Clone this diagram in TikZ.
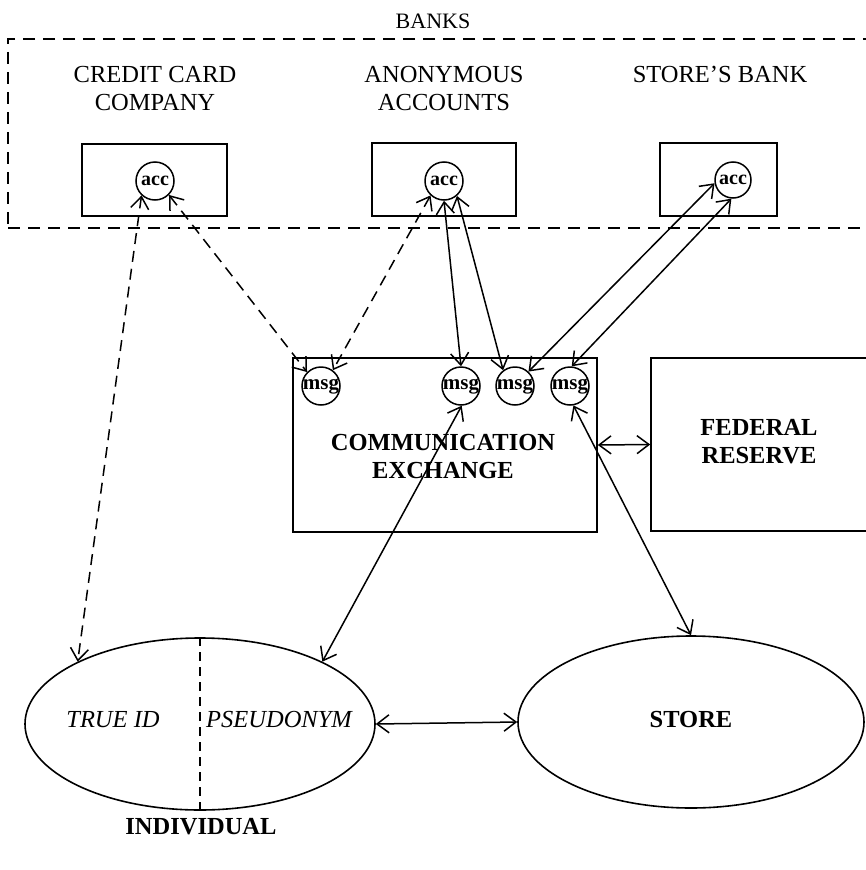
\documentclass[tikz,border=0pt]{standalone}
\usepackage{fontspec}
\setmainfont{Liberation Serif}
\usetikzlibrary{arrows.meta,shapes.geometric}
\tikzset{
  every node/.style={inner sep=0pt},
  lbl/.style={font=\fontsize{24.5}{28}\selectfont, align=center},
  blbl/.style={font=\fontsize{24.5}{28}\selectfont\bfseries, align=center},
  ilbl/.style={font=\fontsize{24.5}{28}\selectfont\itshape},
  box/.style={draw, line width=1.6pt, rectangle},
  dbox/.style={draw, line width=1.6pt, rectangle, dash pattern=on 12pt off 8pt},
  acccirc/.style={draw, circle, line width=1.5pt, minimum size=38pt, fill=white},
  msgcirc/.style={draw, circle, line width=1.5pt, minimum size=38pt, fill=white},
  circtxt/.style={font=\fontsize{20}{20}\selectfont\bfseries},
  ell/.style={draw, ellipse, line width=1.6pt},
  link/.style={line width=1.5pt, {Straight Barb[length=12pt,width=18pt]}-{Straight Barb[length=12pt,width=18pt]}},
  dlink/.style={link, dash pattern=on 11pt off 7pt},
}
\begin{document}
\begin{tikzpicture}[x=1pt,y=-1pt]
\useasboundingbox (0,0) rectangle (866,870);

% banks region
\node[dbox, minimum width=859pt, minimum height=189pt] (banks) at (437.5,133.5) {};
\node[lbl, font=\fontsize{22}{26}\selectfont, anchor=base] (bankslbl) at (433,28) {BANKS};

\node[lbl, anchor=base] (cclbl) at (155,110) {CREDIT CARD\\COMPANY};
\node[lbl, anchor=base] (anlbl) at (444,110) {ANONYMOUS\\ACCOUNTS};
\node[lbl, anchor=base] (sblbl) at (720,82) {STORE'S BANK};

\node[box, minimum width=145pt, minimum height=72pt] (ccbox) at (154.5,180) {};
\node[box, minimum width=144pt, minimum height=73pt] (anbox) at (444,179.5) {};
\node[box, minimum width=117pt, minimum height=73pt] (sbbox) at (718.5,179.5) {};

\node[acccirc, label={[circtxt]center:acc}] (cacc) at (155,181) {};
\node[acccirc, label={[circtxt]center:acc}] (aacc) at (444,181) {};
\node[acccirc, minimum size=36pt, label={[circtxt]center:acc}] (sacc) at (733,180) {};

% communication exchange and federal reserve
\node[box, minimum width=304pt, minimum height=174pt] (cx) at (445,445) {};
\node[blbl, anchor=base] (cxlbl) at (443,478) {COMMUNICATION\\EXCHANGE};
\node[box, minimum width=216pt, minimum height=173pt] (fed) at (759,444.5) {};
\node[blbl, anchor=base] (fedlbl) at (759,463) {FEDERAL\\RESERVE};

\node[msgcirc, label={[circtxt, font=\fontsize{21}{21}\selectfont\bfseries]center:msg}] (m1) at (321,386) {};
\node[msgcirc, label={[circtxt, font=\fontsize{21}{21}\selectfont\bfseries]center:msg}] (m2) at (461,386) {};
\node[msgcirc, label={[circtxt, font=\fontsize{21}{21}\selectfont\bfseries]center:msg}] (m3) at (515,386) {};
\node[msgcirc, label={[circtxt, font=\fontsize{21}{21}\selectfont\bfseries]center:msg}] (m4) at (570,386) {};

% individual and store
\node[ell, minimum width=350pt, minimum height=172pt] (ind) at (200,724) {};
\draw[line width=1.6pt, dash pattern=on 9pt off 6pt] (ind.north) -- (ind.south);
\node[ilbl, anchor=base] (trueid) at (113,727) {TRUE ID};
\node[ilbl, anchor=base] (pseud) at (279,727) {PSEUDONYM};
\node[ell, minimum width=346pt, minimum height=172pt] (sto) at (691,722) {};
\node[blbl, anchor=base] (stolbl) at (691,727) {STORE};
\node[blbl, anchor=base] (indlbl) at (201,834) {INDIVIDUAL};

% connectors
\draw[dlink] (cacc.227) -- (ind.153);
\draw[dlink] (cacc.-45) -- (m1.135);
\draw[dlink] (aacc.227) -- (m1.53);
\draw[link] (aacc.270) -- (m2.90);
\draw[link] (aacc.311) -- (m3.127);
\draw[link] (sacc.190) -- (m3.47);
\draw[link] (sacc.265) -- (m4.85);
\draw[link] (m2.272) -- (ind.27);
\draw[link] (m4.-80) -- (sto.90);
\draw[link] (cx.east) -- (fed.west);
\draw[link] (ind.east) -- (sto.west);
\end{tikzpicture}
\end{document}
